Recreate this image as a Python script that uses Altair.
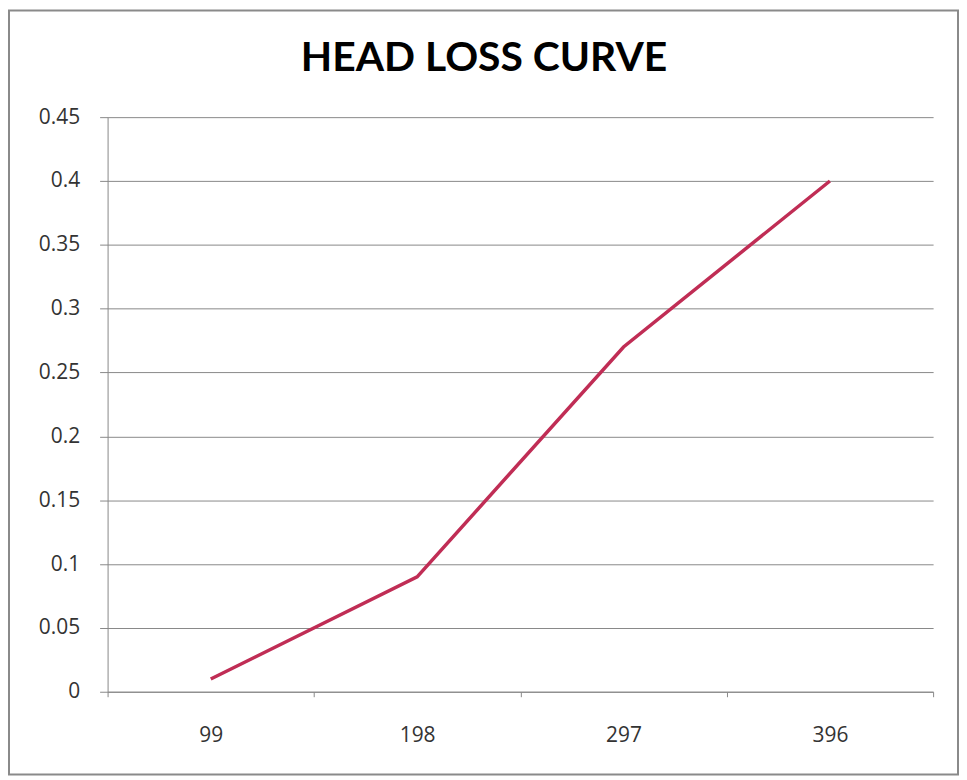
import altair as alt
import pandas as pd

flow = ["99", "198", "297", "396"]
head_loss = [0.01, 0.09, 0.27, 0.40]
y_ticks = [0, 0.05, 0.1, 0.15, 0.2, 0.25, 0.3, 0.35, 0.4, 0.45]
title_text = "HEAD LOSS CURVE"

df = pd.DataFrame({"flow": flow, "head_loss": head_loss})

line = alt.Chart(df).mark_line(color="#C02D55", strokeWidth=3.5).encode(
    x=alt.X("flow:N", sort=flow, title=None,
            scale=alt.Scale(paddingInner=0, paddingOuter=0),
            axis=alt.Axis(labelAngle=0, tickBand="extent", tickSize=5,
                          labelPadding=28, labelFontSize=21, labelColor="#333333",
                          labelFont="Open Sans", domainColor="#888888", tickColor="#888888",
                          grid=False)),
    y=alt.Y("head_loss:Q", title=None,
            scale=alt.Scale(domain=[0, 0.45], nice=False),
            axis=alt.Axis(values=y_ticks, format="~g", tickSize=8, labelPadding=20,
                          labelFontSize=21, labelColor="#333333", labelFont="Open Sans",
                          domainColor="#888888", tickColor="#888888",
                          gridColor="#888888", gridWidth=1, gridOpacity=1)),
)

one = pd.DataFrame({"a": [0]})

border = alt.Chart(one).mark_rect(
    fill=None, stroke="#8a8a8a", strokeWidth=2
).encode(x=alt.value(-99), x2=alt.value(854), y=alt.value(-107), y2=alt.value(660))

title = alt.Chart(one).mark_text(
    font="Lato", fontSize=41, fontWeight="bold", color="#000000",
    align="center", baseline="alphabetic"
).encode(x=alt.value(378), y=alt.value(-46), text=alt.value(title_text))

chart = (border + line + title).properties(
    width=829,
    height=577,
    padding={"left": 100, "top": 108, "right": 26, "bottom": 84},
    autosize=alt.AutoSizeParams(type="none"),
).configure_view(stroke=None)

chart.save("out.html", embed_options={"renderer": "svg", "actions": False})
